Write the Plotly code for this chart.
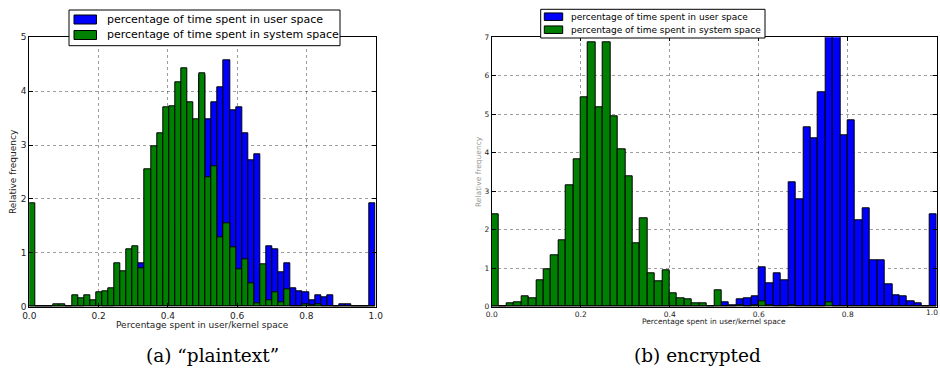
import numpy as np
import plotly.graph_objects as go

# ---------------- data (relative frequency per bin, density-normalised) ----------------
# (a) "plaintext": 57 equal bins over [0, 1]
plain_user = [0, 0, 0, 0, 0, 0, 0, 0, 0, 0.05,
              0.02, 0.05, 0, 0.01, 0.32, 0.09, 0.27, 0.12, 0.80, 0.06,
              0.43, 0.88, 0.69, 1.10, 1.54, 1.29, 2.61, 2.40, 4.30, 3.47,
              3.80, 4.07, 4.57, 3.65, 3.70, 3.22, 2.72, 2.82, 0.71, 1.13,
              1.07, 0.64, 0.80, 0.35, 0.29, 0.27, 0.12, 0.21, 0.17, 0.21,
              0, 0.04, 0.04, 0, 0, 0, 1.91]
plain_system = [1.91, 0, 0, 0, 0.04, 0.04, 0, 0.21, 0.16, 0.21,
                0.12, 0.27, 0.29, 0.35, 0.81, 0.65, 1.07, 1.12, 0.71, 2.55,
                2.98, 3.22, 3.70, 3.72, 4.16, 4.42, 3.80, 3.47, 4.33, 2.40,
                2.61, 1.29, 1.54, 1.10, 0.69, 0.88, 0.43, 0.06, 0.79, 0.12,
                0.27, 0.09, 0.32, 0.01, 0, 0.05, 0.02, 0.05, 0, 0,
                0, 0, 0, 0, 0, 0, 0]

# (b) encrypted: 60 equal bins over [0, 1]
enc_user = [0, 0, 0, 0, 0, 0, 0, 0, 0, 0,
            0, 0, 0, 0, 0, 0, 0, 0, 0, 0,
            0, 0, 0, 0, 0, 0, 0, 0, 0, 0,
            0, 0.12, 0.04, 0.19, 0.22, 0.26, 1.02, 0.62, 0.87, 0.69,
            3.24, 2.80, 4.66, 4.37, 5.58, 7.60, 7.30, 4.45, 4.85, 2.24,
            2.56, 1.20, 1.20, 0.58, 0.30, 0.28, 0.13, 0.10, 0.02, 2.41]
enc_system = [2.41, 0.02, 0.10, 0.12, 0.26, 0.23, 0.68, 0.98, 1.33, 1.72,
              3.15, 3.84, 5.45, 6.88, 5.18, 6.88, 4.94, 4.08, 3.39, 1.65,
              2.29, 0.87, 0.65, 0.94, 0.34, 0.21, 0.19, 0.08, 0.08, 0.01,
              0.43, 0, 0, 0.03, 0, 0.03, 0.14, 0.03, 0, 0,
              0.03, 0, 0, 0, 0, 0.11, 0, 0, 0, 0,
              0, 0, 0, 0, 0, 0, 0, 0, 0, 0]

x_tick_vals = [0.0, 0.2, 0.4, 0.6, 0.8, 1.0]
x_tick_text = ["0.0", "0.2", "0.4", "0.6", "0.8", "1.0"]
plain_y_ticks = [0, 1, 2, 3, 4, 5]
enc_y_ticks = [0, 1, 2, 3, 4, 5, 6, 7]

user_label = "percentage of time spent in user space"
system_label = "percentage of time spent in system space"
x_title = "Percentage spent in user/kernel space"
y_title = "Relative frequency"
captions = ["(a) \u201cplaintext\u201d", "(b) encrypted"]

BLUE = "#0000ff"
GREEN = "#008000"

W, H = 940, 381


def px(x):
    return x / W


def py(y):
    return 1 - y / H


def bins(values):
    n = len(values)
    edges = np.linspace(0, 1, n + 1)
    return (edges[:-1] + edges[1:]) / 2, 1.0 / n


fig = go.Figure()

for vals, color, name, xa, ya in [
    (plain_user, BLUE, user_label, "x", "y"),
    (plain_system, GREEN, system_label, "x", "y"),
    (enc_user, BLUE, user_label, "x2", "y2"),
    (enc_system, GREEN, system_label, "x2", "y2"),
]:
    c, w = bins(vals)
    fig.add_trace(go.Bar(
        x=c, y=vals, width=w, name=name, xaxis=xa, yaxis=ya,
        marker=dict(color=color, line=dict(color="black", width=1)),
        showlegend=False,
    ))


def axis(domain, rng, tickvals, ticktext, fs, show_labels=True):
    return dict(
        domain=domain, range=rng, tickvals=tickvals, ticktext=ticktext,
        showline=True, linecolor="black", linewidth=1, mirror="ticks",
        ticks="inside", ticklen=4, tickcolor="black", tickwidth=1,
        showgrid=True, gridcolor="rgba(0,0,0,0.38)", griddash="dot", gridwidth=1,
        zeroline=False, layer="above traces", automargin=False,
        showticklabels=show_labels,
        tickfont=dict(family="DejaVu Sans", size=fs, color="#222"),
    )


# plot-area pixel boxes
L = (29.3, 375.7)
R = (491.7, 936.7)
TOP, BOT = 37.3, 306.7

fig.update_layout(
    width=W, height=H, template="none",
    margin=dict(l=0, r=0, t=0, b=0, autoexpand=False),
    paper_bgcolor="white", plot_bgcolor="white",
    barmode="overlay", bargap=0,
    xaxis=axis([px(L[0]), px(L[1])], [0, 1], x_tick_vals, x_tick_text, 9),
    yaxis=axis([py(BOT), py(TOP)], [0, 5], plain_y_ticks, [str(v) for v in plain_y_ticks], 9),
    xaxis2=axis([px(R[0]), px(R[1])], [0, 1], x_tick_vals[:-1], x_tick_text[:-1], 7.5),
    yaxis2=axis([py(BOT), py(TOP)], [0, 7], enc_y_ticks, [str(v) for v in enc_y_ticks], 7.5),
)
fig.layout.yaxis2.anchor = "x2"
fig.layout.xaxis2.anchor = "y2"

shapes = []
annotations = []


def text(x, y, s, fs, family="DejaVu Sans", color="#222", angle=0, xanchor="center"):
    annotations.append(dict(x=px(x), y=py(y), xref="paper", yref="paper", text=s,
                            showarrow=False, xanchor=xanchor, yanchor="middle", textangle=angle,
                            font=dict(family=family, size=fs, color=color)))


def legend(x0, x1, y0, y1, patch_x0, patch_x1, rows, text_x, fs, ph):
    shapes.append(dict(type="rect", xref="paper", yref="paper", layer="above",
                       x0=px(x0), x1=px(x1), y0=py(y1), y1=py(y0),
                       fillcolor="white", line=dict(color="black", width=1)))
    for (cy, color, label) in rows:
        shapes.append(dict(type="rect", xref="paper", yref="paper", layer="above",
                           x0=px(patch_x0), x1=px(patch_x1),
                           y0=py(cy + ph / 2), y1=py(cy - ph / 2),
                           fillcolor=color, line=dict(color="black", width=1)))
        text(text_x, cy, label, fs, color="black", xanchor="left")


legend(69, 340, 10, 45.7, 74, 96.5, [(19.5, BLUE, user_label), (35, GREEN, system_label)], 105, 11, 9)
legend(540.7, 765, 9.3, 38, 544.3, 562.7, [(16.7, BLUE, user_label), (29.7, GREEN, system_label)], 569, 9, 7.5)

# axis titles
text((L[0] + L[1]) / 2, 325, x_title, 9)
text((R[0] + R[1]) / 2, 321.5, x_title, 7.5)
text(13, 172, y_title, 9, angle=-90)
text(479, 172, y_title, 7.5, color="#999", angle=-90)
# right-most tick label of panel (b), kept inside the page edge
text(939.5, 312.5, x_tick_text[-1], 7.5, xanchor="right")

# sub-figure captions
text(212, 355, captions[0], 18.5, family="DejaVu Serif", color="black")
text(697, 355, captions[1], 18.5, family="DejaVu Serif", color="black")

fig.update_layout(shapes=shapes, annotations=annotations)
fig.write_html("out.html")
